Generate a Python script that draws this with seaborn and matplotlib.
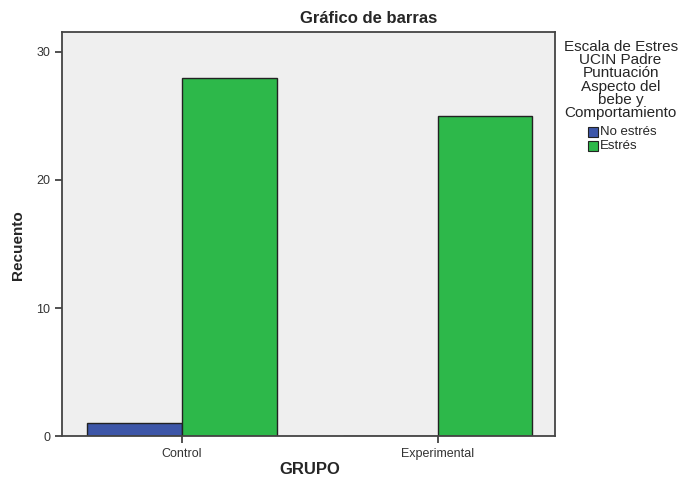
import pandas as pd
import matplotlib.pyplot as plt
import seaborn as sns

grupos = ["Control", "Experimental"]
niveles = ["No estrés", "Estrés"]
recuento_no_estres = [1, 0]
recuento_estres = [28, 25]

rows = []
for g, a, b in zip(grupos, recuento_no_estres, recuento_estres):
    rows.append({"GRUPO": g, "Nivel": niveles[0], "Recuento": a})
    rows.append({"GRUPO": g, "Nivel": niveles[1], "Recuento": b})
df = pd.DataFrame(rows)

colores = ["#3d56a8", "#2db84a"]

sns.set_style("white")
plt.rcParams["font.family"] = ["Liberation Sans", "DejaVu Sans"]

fig = plt.figure(figsize=(6.82, 4.82), dpi=100)
ax = fig.add_axes([0.0909, 0.0954, 0.7229, 0.8382])
ax.set_facecolor("#efefef")

sns.barplot(
    data=df, x="GRUPO", y="Recuento", hue="Nivel",
    palette=colores, saturation=1, width=0.742,
    edgecolor="#222222", linewidth=1.0, ax=ax, legend=False
)

ax.set_xlim(-0.47, 1.46)
ax.set_ylim(0, 31.56)
ax.set_yticks([0, 10, 20, 30])
ax.tick_params(axis="both", direction="out", length=5, width=1.2,
               colors="#333333", labelsize=9, bottom=True, left=True)
for s in ax.spines.values():
    s.set_color("#444444")
    s.set_linewidth(1.3)

ax.set_xlabel("")
ax.set_ylabel("")
fig.text(0.455, 0.025, "GRUPO", ha="center", va="center",
         fontsize=12, fontweight="bold")
fig.text(0.027, 0.492, "Recuento", ha="center", va="center",
         fontsize=11, fontweight="bold", rotation=90)
fig.text(0.541, 0.962, "Gráfico de barras", ha="center", va="center",
         fontsize=12, fontweight="bold")

fig.text(0.910, 0.834,
         "Escala de Estres\nUCIN Padre\nPuntuación\nAspecto del\nbebe y\nComportamiento",
         ha="center", va="center", fontsize=11, linespacing=0.93)
for i, (lab, col) in enumerate(zip(niveles, colores)):
    y = 0.7265 - i * 0.0295
    fig.patches.append(plt.Rectangle((0.862, y - 0.011), 0.0155, 0.021,
                                     transform=fig.transFigure, facecolor=col,
                                     edgecolor="#222222", linewidth=0.8))
    fig.text(0.880, y, lab, ha="left", va="center", fontsize=9.5)

fig.savefig("out.png", dpi=100)
